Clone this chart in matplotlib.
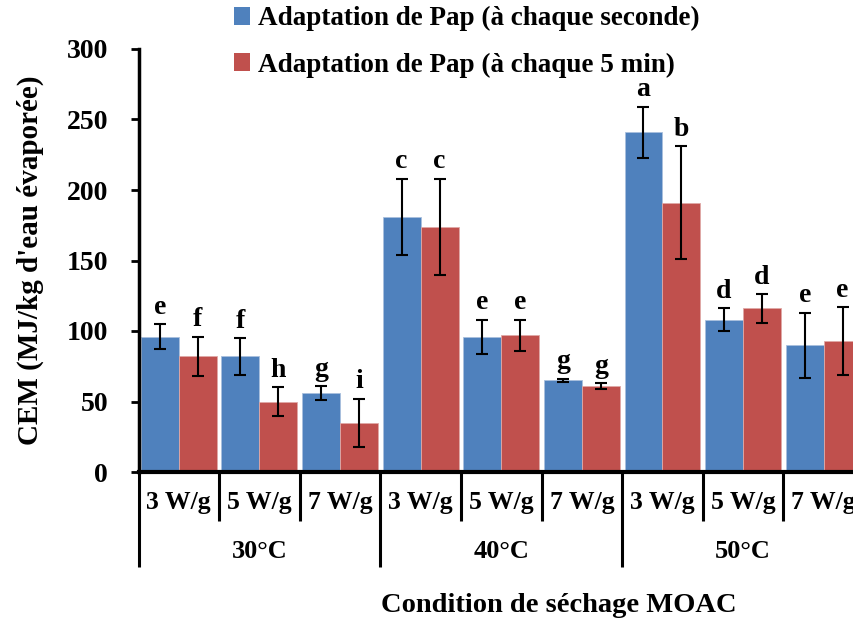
import matplotlib
matplotlib.use("Agg")
import matplotlib.pyplot as plt
import numpy as np
from matplotlib.patches import Patch

plt.rcParams["font.family"] = ["Liberation Serif", "DejaVu Serif"]

# data
powers = ["3 W/g", "5 W/g", "7 W/g"] * 3
temperatures = ["30°C", "40°C", "50°C"]
series_names = [
    "Adaptation de Pap (à chaque seconde)",
    "Adaptation de Pap (à chaque 5 min)",
]
per_second = [96, 82, 56, 181, 96, 65, 241, 108, 90]
per_second_err = [9, 13, 5, 27, 12, 1.3, 18, 8, 23]
per_5min = [82, 50, 35, 174, 97, 61, 191, 116, 93]
per_5min_err = [14, 10, 17, 34, 11, 2, 40, 10, 24]
letters_second = ["e", "f", "g", "c", "e", "g", "a", "d", "e"]
letters_5min = ["f", "h", "i", "c", "e", "g", "b", "d", "e"]

BLUE = "#4F81BD"
RED = "#C0504D"

fig = plt.figure(figsize=(8.54, 6.22), dpi=100)
ax = fig.add_axes([138.5 / 854, 150 / 622, 725.5 / 854, 423 / 622])

x = np.arange(len(powers))
width = 0.471
err_style = dict(ecolor="black", elinewidth=1.5, capsize=4, capthick=1.5)
ax.bar(x - width / 2, per_second, width, color=BLUE, edgecolor="#A9C0DE",
       linewidth=0.6, yerr=per_second_err, error_kw=err_style)
ax.bar(x + width / 2, per_5min, width, color=RED, edgecolor="#E0A9A7",
       linewidth=0.6, yerr=per_5min_err, error_kw=err_style)

# significance letters above the error bars
for offset, values, errs, letters in [
    (-width / 2, per_second, per_second_err, letters_second),
    (width / 2, per_5min, per_5min_err, letters_5min),
]:
    for xi, v, e, letter in zip(x, values, errs, letters):
        ax.annotate(letter, (xi + offset, v + e), xytext=(0, 7.5),
                    textcoords="offset points", ha="center", va="baseline",
                    fontsize=20, fontweight="bold")

ax.set_xlim(-0.5, len(powers) - 0.5)
ax.set_ylim(0, 300)
ax.set_yticks(np.arange(0, 301, 50))
ax.tick_params(axis="y", direction="out", length=6, width=2, labelsize=20, pad=16)
for label in ax.get_yticklabels():
    label.set_fontweight("bold")
ax.set_xticks([])

for side in ["top", "right"]:
    ax.spines[side].set_visible(False)
ax.spines["left"].set_linewidth(2.5)
ax.spines["bottom"].set_linewidth(3)

# two-level category axis
trans = ax.get_xaxis_transform()
for i, b in enumerate(np.arange(-0.5, len(powers), 1.0)):
    depth = -0.2246 if i % 3 == 0 else -0.116
    ax.plot([b, b], [0, depth], transform=trans, color="black", lw=2.2,
            clip_on=False, solid_capstyle="butt")
for xi, label in zip(x, powers):
    ax.text(xi, -0.071, label, transform=trans, ha="center", va="center",
            fontsize=18.5, fontweight="bold")
for k, label in enumerate(temperatures):
    ax.text(3 * k + 1, -0.187, label, transform=trans, ha="center",
            va="center", fontsize=19, fontweight="bold")

ax.set_ylabel("CEM (MJ/kg d'eau évaporée)", fontsize=21, fontweight="bold",
              va="center")
ax.yaxis.set_label_coords(-0.1496, 0.5)
fig.text(559 / 854, 1 - 605 / 622, "Condition de séchage MOAC", ha="center",
         va="center", fontsize=20.5, fontweight="bold")

handles = [Patch(facecolor=BLUE), Patch(facecolor=RED)]
fig.legend(handles, series_names, loc="upper left",
           bbox_to_anchor=(234 / 854, 1 - 6 / 622), frameon=False,
           prop=dict(size=19.5, weight="bold"), handlelength=0.6,
           handleheight=0.65, handletextpad=0.28, labelspacing=0.8,
           borderpad=0, borderaxespad=0)

fig.savefig("out.png", dpi=100)
